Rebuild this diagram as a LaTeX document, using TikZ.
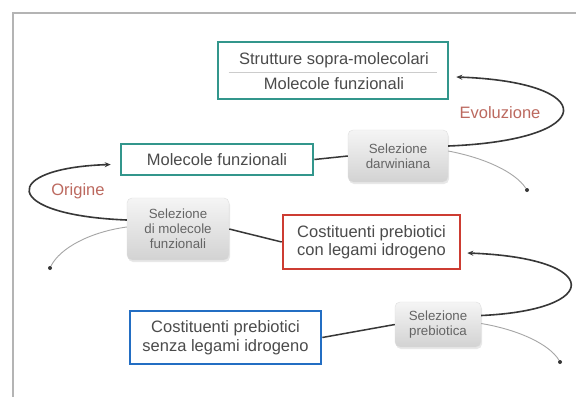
\documentclass[tikz,border=0pt]{standalone}
\usepackage{fontspec}
\setmainfont{Liberation Sans}
\usetikzlibrary{arrows.meta,shadows}
\definecolor{tealc}{RGB}{50,150,140}
\definecolor{redc}{RGB}{205,60,50}
\definecolor{bluec}{RGB}{35,110,195}
\definecolor{txt}{RGB}{75,75,75}
\definecolor{gtxt}{RGB}{100,100,100}
\definecolor{lbl}{RGB}{188,105,95}
\definecolor{framec}{RGB}{180,180,180}
\definecolor{conc}{RGB}{55,55,55}
\begin{document}
\begin{tikzpicture}[x=1bp,y=-1bp,
  bigbox/.style={draw, line width=2.6bp, fill=white, align=center, text=txt,
    font=\fontsize{16.5bp}{18.5bp}\selectfont, inner sep=0pt},
  selbox/.style={rounded corners=5bp, top color=gray!8, bottom color=gray!35,
    draw=gray!25, line width=0.4bp, align=center, text=gtxt, inner sep=0pt,
    font=\fontsize{13.3bp}{15bp}\selectfont,
    drop shadow={opacity=0.18, shadow xshift=1bp, shadow yshift=-2bp}},
  lab/.style={text=lbl, font=\fontsize{16.5bp}{18bp}\selectfont, inner sep=0pt},
  conn/.style={draw=conc, line width=1.5bp},
  loop/.style={draw=conc, line width=1.6bp, -{Stealth[length=6bp,width=5bp]}},
  thin/.style={draw=gray!70, line width=0.9bp},
  dotn/.style={circle, fill=conc, inner sep=0pt, minimum size=4bp}]
\useasboundingbox (0,0) rectangle (576,397);
\fill[white] (0,0) rectangle (576,397);
\draw[framec, line width=2.5bp] (576,13) -- (13,13) -- (13,397);

% top box
\node[bigbox, draw=tealc, minimum width=230bp, minimum height=57bp] (top) at (333,70.5) {};
\node[text=txt, font=\fontsize{16.5bp}{18.5bp}\selectfont] (topa) at (334,60) {Strutture sopra-molecolari};
\node[text=txt, font=\fontsize{16.5bp}{18.5bp}\selectfont] (topb) at (334,84) {Molecole funzionali};
\draw[gray!40, line width=0.6bp] ([xshift=12bp]top.west |- 0,72) -- ([xshift=-12bp]top.east |- 0,72);

\node[bigbox, draw=tealc, minimum width=192bp, minimum height=31bp] (mf) at (217,159.5) {Molecole funzionali};
\node[selbox, minimum width=100bp, minimum height=52bp] (darw) at (398,156) {Selezione\\darwiniana};
\node[selbox, minimum width=102bp, minimum height=62bp] (selmol) at (178,229) {Selezione\\di molecole\\funzionali};
\node[bigbox, draw=redc, minimum width=177bp, minimum height=54bp] (red) at (371.5,242) {Costituenti prebiotici\\con legami idrogeno};
\node[bigbox, draw=bluec, minimum width=191bp, minimum height=53bp] (blue) at (225.5,337.5) {Costituenti prebiotici\\senza legami idrogeno};
\node[selbox, minimum width=86bp, minimum height=45bp] (preb) at (438,324.5) {Selezione\\prebiotica};

\node[lab] (evo) at (500,113) {Evoluzione};
\node[lab] (ori) at (78,191) {Origine};

% dots
\node[dotn] (d1) at (527,190) {};
\node[dotn] (d2) at (50,268) {};
\node[dotn] (d3) at (560,362) {};

% straight connectors
\draw[conn] (mf.east) -- (darw.west);
\draw[conn] (selmol.east) -- (red.west);
\draw[conn] (blue.east) -- (preb.west);

% loops
\draw[loop] ([yshift=10bp]darw.east) .. controls (600,140) and (600,82) .. ([xshift=7bp,yshift=-6.5bp]top.east);
\draw[loop] ([yshift=9bp]selmol.west) .. controls (0,215) and (0,168) .. ([xshift=-9bp,yshift=-5bp]mf.west);
\draw[loop] ([yshift=9bp]preb.east) .. controls (603,310) and (603,258) .. ([xshift=6bp,yshift=-11bp]red.east);

% thin curves
\draw[thin] ([yshift=5bp]darw.east) .. controls (485,158) and (515,172) .. (d1);
\draw[thin] ([yshift=2bp]selmol.west) .. controls (90,232) and (60,248) .. (d2);
\draw[thin] ([yshift=1bp]preb.east) .. controls (520,330) and (550,345) .. (d3);
\end{tikzpicture}
\end{document}
